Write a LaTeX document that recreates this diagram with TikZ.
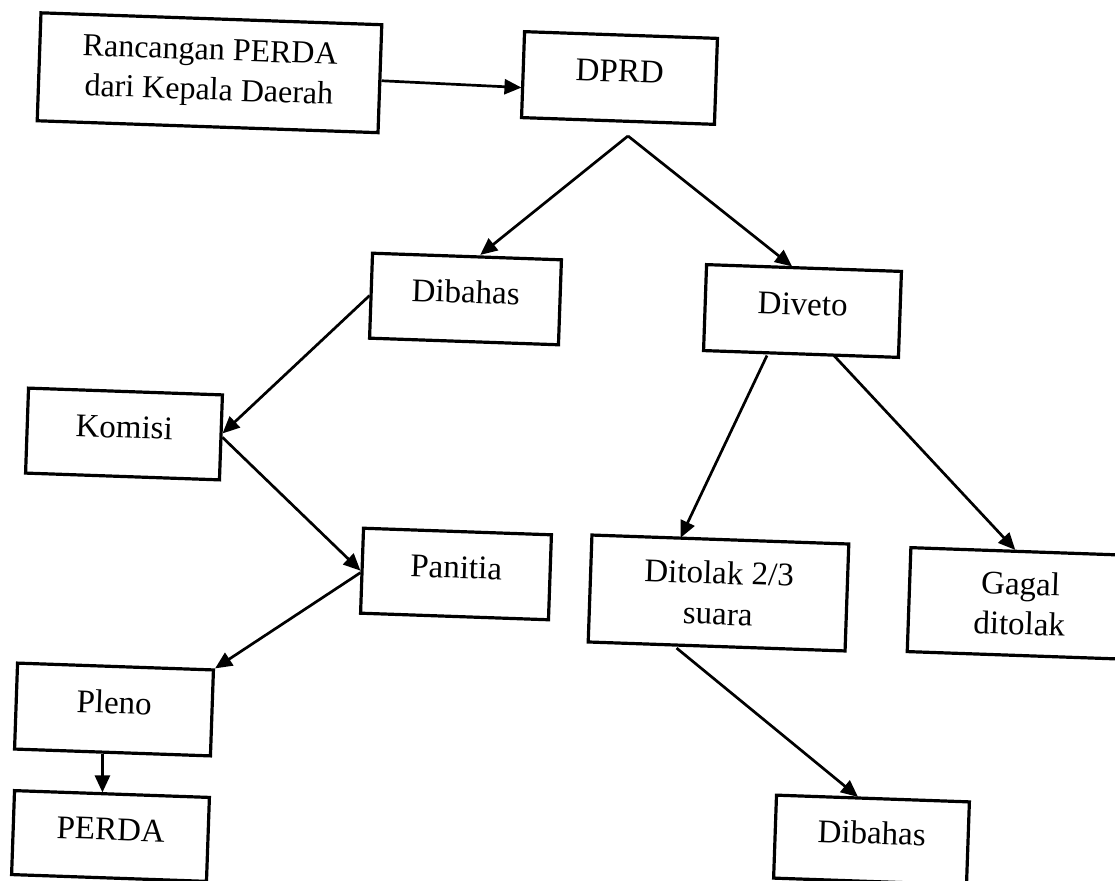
\documentclass[tikz,border=0pt]{standalone}
\usepackage{fontspec}
\setmainfont{Liberation Serif}
\usetikzlibrary{arrows.meta}
\tikzset{
  flowbox/.style={draw, line width=1.6pt, inner sep=0pt, rotate=-2,
    font=\fontsize{16.5}{14}\selectfont, text height=12pt, text depth=8pt},
  twobox/.style={draw, line width=1.6pt, inner sep=0pt, rotate=-2, align=center},
  arr/.style={line width=1.35pt, -{Triangle[length=8.5pt,width=7.5pt]}}
}
\begin{document}
\begin{tikzpicture}[x=0.5pt,y=-0.5pt]
\useasboundingbox (0,0) rectangle (1115,881);
\clip (0,0) rectangle (1115,881);
\fill[white] (0,0) rectangle (1115,881);
% boxes
\node[twobox, font=\fontsize{16}{20}\selectfont, minimum width=170.5pt, minimum height=54pt] (src) at (209.5,72.75) {Rancangan PERDA\\dari Kepala Daerah};
\node[flowbox, minimum width=96.5pt, minimum height=43pt] (dprd) at (619.5,78) {DPRD};
\node[flowbox, minimum width=94.5pt, minimum height=42.5pt] (dib1) at (465.5,299) {Dibahas};
\node[flowbox, minimum width=97.5pt, minimum height=43pt] (diveto) at (802.5,311) {Diveto};
\node[flowbox, minimum width=97pt, minimum height=42.5pt] (komisi) at (124,434) {Komisi};
\node[flowbox, minimum width=94pt, minimum height=42.5pt] (panitia) at (456,574) {Panitia};
\node[twobox, font=\fontsize{16.5}{20.5}\selectfont, minimum width=128.5pt, minimum height=53.5pt] (ditolak) at (718.5,593) {Ditolak 2/3\\suara};
\node[twobox, font=\fontsize{16.5}{20}\selectfont, minimum width=111pt, minimum height=52pt] (gagal) at (1020,603.5) {Gagal\\ditolak};
\node[flowbox, minimum width=98pt, minimum height=43pt] (pleno) at (114,709.5) {Pleno};
\node[flowbox, minimum width=97.5pt, minimum height=42pt] (perda) at (110.5,836) {PERDA};
\node[flowbox, minimum width=96.5pt, minimum height=41.5pt] (dib2) at (871.5,840) {Dibahas};
\coordinate (apex) at (628,136);
% connectors
\draw[arr] ([yshift=-1pt]src.east) -- ([yshift=-6.5pt]dprd.west);
\draw[arr] (apex) -- ([xshift=6.6pt]dib1.north);
\draw[arr] (apex) -- ([xshift=-6pt]diveto.north);
\draw[arr] (dib1.west) -- ([yshift=2pt]komisi.east);
\draw[arr] (komisi.east) -- (panitia.west);
\draw[arr] ([yshift=-1pt]panitia.west) -- (pleno.north east);
\draw[arr] ([xshift=-5pt]pleno.south) -- ([xshift=-5pt]pleno.south |- perda.north);
\draw[arr] ([xshift=-17pt]diveto.south) -- ([xshift=-20pt]ditolak.north);
\draw[arr] ([xshift=16.5pt]diveto.south) -- ([xshift=-3.3pt]gagal.north);
\draw[arr] ([xshift=-20pt]ditolak.south) -- ([xshift=-7.5pt]dib2.north);
\end{tikzpicture}
\end{document}
